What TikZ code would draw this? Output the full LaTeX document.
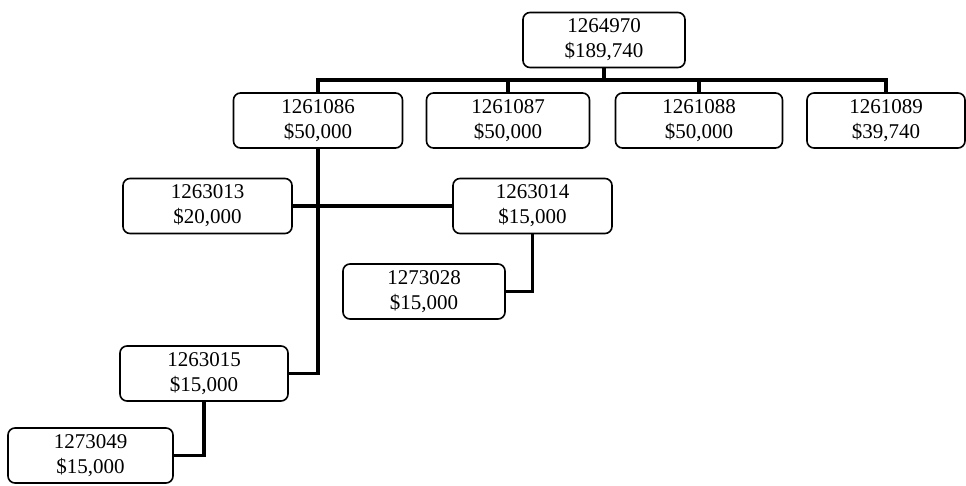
\documentclass[tikz,border=0pt]{standalone}
\usepackage{tikz}
\usepackage{fontspec}
\setmainfont{Liberation Serif}

\begin{document}
\begin{tikzpicture}[x=1pt, y=-1pt,
    conta/.style={draw, line width=1.6pt, rounded corners=7pt, minimum height=55pt,
                  inner sep=0pt, align=center, font=\fontsize{21}{25}\selectfont},
    ligacao/.style={line width=3.8pt}]

            % Área total da figura
            \useasboundingbox (0,0) rectangle (966,485);

            % 1. Conta principal
            \node[conta, minimum width=162pt] (raiz) at (604, 40) {1264970\\\$189,740};

            % 2. Primeiro nível (quatro contas)
            \node[conta, minimum width=169pt] (n1a) at (318, 120.5) {1261086\\\$50,000};
            \node[conta, minimum width=163pt] (n1b) at (508, 120.5) {1261087\\\$50,000};
            \node[conta, minimum width=167pt] (n1c) at (699, 120.5) {1261088\\\$50,000};
            \node[conta, minimum width=158pt] (n1d) at (886, 120.5) {1261089\\\$39,740};

            % 3. Segundo nível
            \node[conta, minimum width=169pt] (n2a) at (207.5, 206) {1263013\\\$20,000};
            \node[conta, minimum width=159pt] (n2b) at (532.5, 206) {1263014\\\$15,000};
            \node[conta, minimum width=168pt] (n2c) at (204, 373.5) {1263015\\\$15,000};

            % 4. Terceiro nível
            \node[conta, minimum width=162pt] (n3a) at (424, 291.5) {1273028\\\$15,000};
            \node[conta, minimum width=165pt] (n3b) at (90.5, 455.5) {1273049\\\$15,000};

            % 5. Barramento horizontal e ligações
            \coordinate (barra) at (604, 80);
            \draw[ligacao] (raiz.south) -- (barra);
            \draw[ligacao] (n1a.north) -- (n1a.north |- barra) -- (n1d.north |- barra) -- (n1d.north);
            \draw[ligacao] (n1b.north |- barra) -- (n1b.north);
            \draw[ligacao] (n1c.north |- barra) -- (n1c.north);

            \draw[ligacao] (n1a.south) -- (n1a.south |- n2c.east) -- (n2c.east);
            \draw[ligacao] (n2a.east) -- (n2b.west);
            \draw[ligacao] (n2b.south) -- (n2b.south |- n3a.east) -- (n3a.east);
            \draw[ligacao] (n2c.south) -- (n2c.south |- n3b.east) -- (n3b.east);

\end{tikzpicture}
\end{document}
